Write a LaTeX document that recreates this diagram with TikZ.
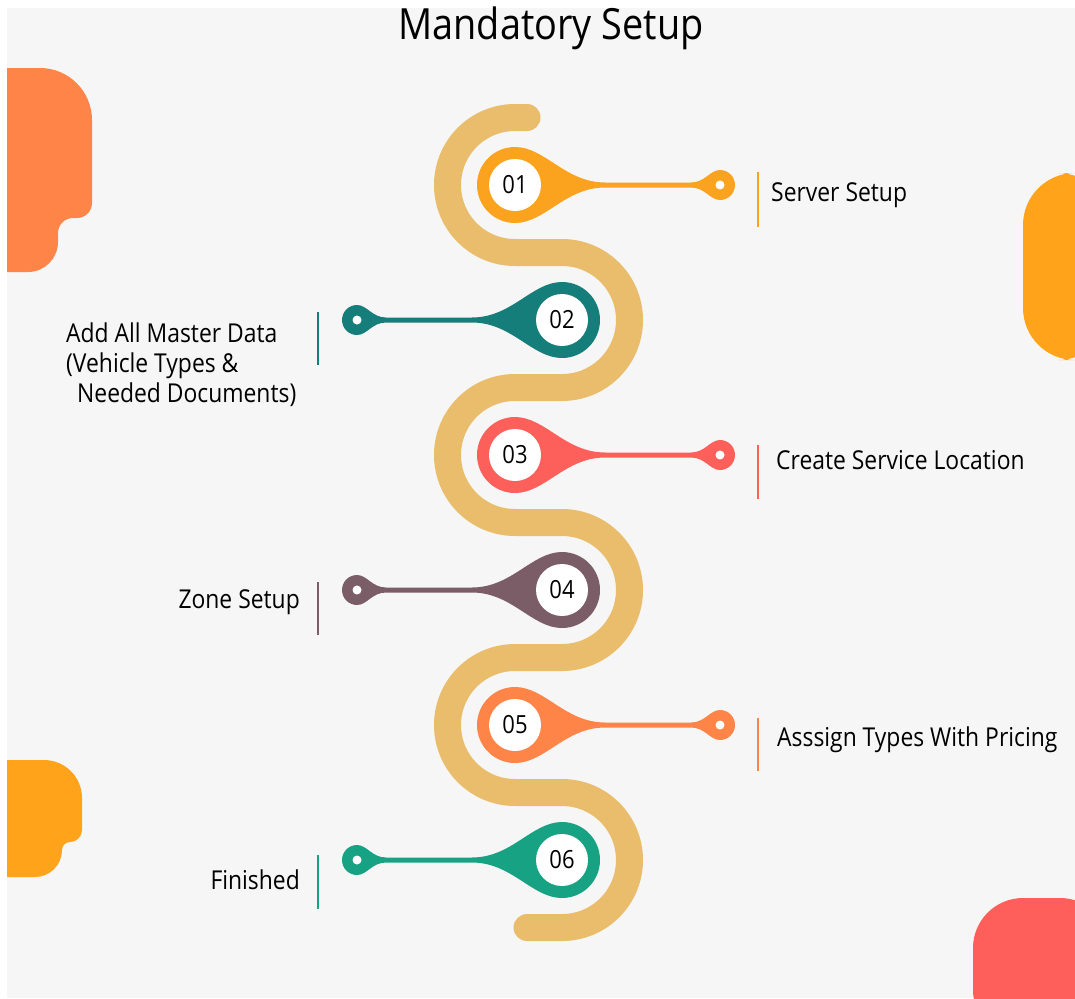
\documentclass[tikz,border=0pt]{standalone}
\usepackage{fontspec}
\setmainfont{Open Sans}[FakeStretch=0.88]
\definecolor{bgGrey}{HTML}{F6F6F6}
\definecolor{roadGold}{HTML}{E9BD6B}
\definecolor{stepA}{HTML}{FBA31E}
\definecolor{stepB}{HTML}{167E7A}
\definecolor{stepC}{HTML}{FD5F5B}
\definecolor{stepD}{HTML}{7B5D68}
\definecolor{stepE}{HTML}{FE8447}
\definecolor{stepF}{HTML}{17A383}
\definecolor{blobOrange}{HTML}{FF8447}
\definecolor{blobAmber}{HTML}{FFA31A}
\definecolor{blobRed}{HTML}{FF5F5A}

\begin{document}
\begin{tikzpicture}[
    x=1pt,y=1pt,
    Road/.style={line width=27pt,roadGold,line cap=round},
    Num/.style={font=\fontsize{25}{25}\selectfont,text=black,inner sep=0pt},
    Label/.style={font=\fontsize{26}{30}\selectfont,text=black,inner sep=0pt},
    Title/.style={font=\fontsize{43}{43}\selectfont,text=black,inner sep=0pt},
    Bar/.style={line width=2.5pt},
    Pin/.pic={
      \path[pic actions] (0,38) .. controls (30,38) and (50,2.5) .. (90,2.5) -- (176,2.5)
        .. controls (190,2.5) and (195,15) .. (205,15) arc[start angle=90,end angle=-90,radius=15]
        .. controls (195,-15) and (190,-2.5) .. (176,-2.5) -- (90,-2.5)
        .. controls (50,-2.5) and (30,-38) .. (0,-38) arc[start angle=-90,end angle=-270,radius=38] -- cycle;
      \fill[white] (0,0) circle[radius=26];
      \fill[white] (205,0) circle[radius=4.5];
    },
    ]

    \useasboundingbox (0,0) rectangle (1075,-998);
    \fill[bgGrey] (7,-8) rectangle (1075,-998);

    % corner blobs
    \begin{scope}
      \clip (7,-8) rectangle (1075,-998);
      \fill[blobOrange] (0,-68) -- (40,-68) arc[start angle=90,end angle=0,radius=52] -- (92,-203)
        arc[start angle=0,end angle=-90,radius=15] -- (73,-218) arc[start angle=90,end angle=180,radius=15]
        -- (58,-242) arc[start angle=0,end angle=-90,radius=30] -- (0,-272) -- cycle;
      \fill[blobAmber,rounded corners=52] (1023,-173) rectangle (1110,-360);
      \fill[blobAmber] (0,-760) -- (44,-760) arc[start angle=90,end angle=0,radius=38] -- (82,-830)
        arc[start angle=0,end angle=-90,radius=12] arc[start angle=90,end angle=180,radius=8]
        -- (62,-850) arc[start angle=0,end angle=-90,radius=27] -- (0,-877) -- cycle;
      \fill[blobRed,rounded corners=50] (973,-898) rectangle (1110,-1040);
    \end{scope}

    \node[Title,anchor=base] (title) at (551,-40) {Mandatory Setup};

    % winding road
    \draw[Road] (527,-117.5) -- (515,-117.5) arc[start angle=90,end angle=270,radius=67.5]
      -- (562,-252.5) arc[start angle=90,end angle=-90,radius=67.5]
      -- (515,-387.5) arc[start angle=90,end angle=270,radius=67.5]
      -- (562,-522.5) arc[start angle=90,end angle=-90,radius=67.5]
      -- (515,-657.5) arc[start angle=90,end angle=270,radius=67.5]
      -- (562,-792.5) arc[start angle=90,end angle=-90,radius=67.5]
      -- (527,-927.5);

    % pins
    \pic[fill=stepA] at (515,-185) {Pin};
    \pic[fill=stepB,xscale=-1] at (562,-320) {Pin};
    \pic[fill=stepC] at (515,-455) {Pin};
    \pic[fill=stepD,xscale=-1] at (562,-590) {Pin};
    \pic[fill=stepE] at (515,-725) {Pin};
    \pic[fill=stepF,xscale=-1] at (562,-860) {Pin};

    \node[Num] (n01) at (515,-185) {01};
    \node[Num] (n02) at (562,-320) {02};
    \node[Num] (n03) at (515,-455) {03};
    \node[Num] (n04) at (562,-590) {04};
    \node[Num] (n05) at (515,-725) {05};
    \node[Num] (n06) at (562,-860) {06};

    % labels
    \node[Label,anchor=base west] (l01) at (771,-201) {Server Setup};
    \node[Label,anchor=north west,align=left] (l02) at (66,-323)
      {Add All Master Data\\(Vehicle Types \&\\\hspace*{11pt}Needed Documents)};
    \node[Label,anchor=base west] (l03) at (776,-469) {Create Service Location};
    \node[Label,anchor=base east] (l04) at (300,-608) {Zone Setup};
    \node[Label,anchor=base west] (l05) at (777,-746) {Asssign Types With Pricing};
    \node[Label,anchor=base east] (l06) at (300,-889) {Finished};

    \draw[Bar,stepA] (758,-172) -- (758,-227);
    \draw[Bar,stepB] (318,-312) -- (318,-365);
    \draw[Bar,stepC] (758,-445) -- (758,-499);
    \draw[Bar,stepD] (318,-582) -- (318,-635);
    \draw[Bar,stepE] (758,-718) -- (758,-771);
    \draw[Bar,stepF] (318,-855) -- (318,-909);
  \end{tikzpicture}
\end{document}
